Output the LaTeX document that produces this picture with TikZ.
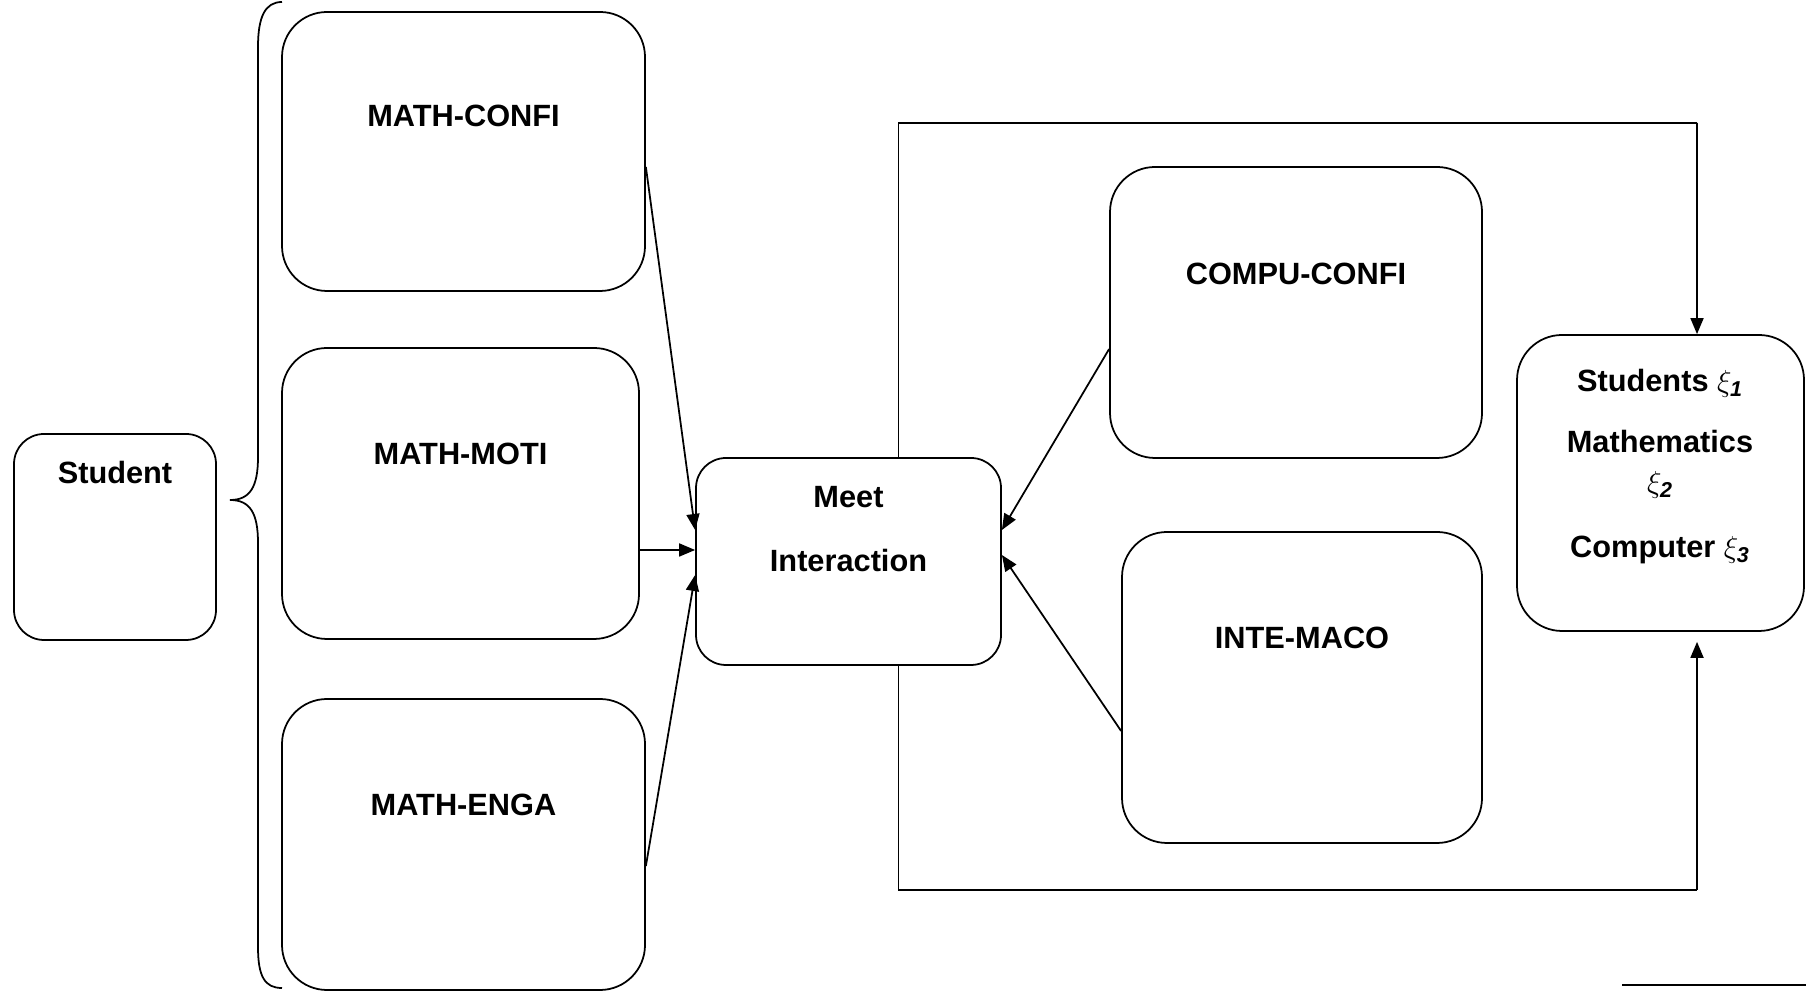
\documentclass[tikz,border=0pt]{standalone}
\usepackage{fontspec}
\setmainfont{Liberation Sans}
\usepackage{amsmath}
\usetikzlibrary{arrows.meta}

\begin{document}
\begin{tikzpicture}[
  box/.style={draw, line width=1pt, rounded corners=0.9cm, inner sep=0pt},
  lbl/.style={font=\fontsize{17.5}{21}\selectfont\bfseries, inner sep=1pt},
  pfeil/.style={line width=1pt, -{Triangle[length=0.32cm,width=0.26cm]}}
]

\useasboundingbox (0,0) rectangle (36.12,19.84);

\node[box, rounded corners=0.6cm, minimum width=4.04cm, minimum height=4.12cm] (student) at (2.30,9.10) {};	% Student Kasten
\node[lbl] (studenttxt) at (2.30,10.39) {Student};

\draw[line width=1pt] (5.64,19.80) .. controls (5.30,19.80) and (5.16,19.50) .. (5.16,18.90)	% Klammer oben
  -- (5.16,10.70) .. controls (5.16,10.10) and (5.00,9.84) .. (4.60,9.84)						% Klammer Spitze
  .. controls (5.00,9.84) and (5.16,9.58) .. (5.16,8.98)
  -- (5.16,0.90) .. controls (5.16,0.30) and (5.30,0.08) .. (5.64,0.08);						% Klammer unten

\node[box, minimum width=7.26cm, minimum height=5.58cm] (confi) at (9.27,16.81) {};	% MATH-CONFI
\node[lbl] (confitxt) at (9.27,17.52) {MATH-CONFI};
\node[box, minimum width=7.14cm, minimum height=5.82cm] (moti) at (9.21,9.97) {};	% MATH-MOTI
\node[lbl] (motitxt) at (9.21,10.76) {MATH-MOTI};
\node[box, minimum width=7.26cm, minimum height=5.82cm] (enga) at (9.27,2.95) {};	% MATH-ENGA
\node[lbl] (engatxt) at (9.27,3.74) {MATH-ENGA};

\node[box, rounded corners=0.6cm, minimum width=6.10cm, minimum height=4.14cm] (meet) at (16.97,8.61) {};	% Meet Interaction
\node[lbl, align=center, anchor=north] (meettxt) at (16.97,10.15) {Meet\\[0.53cm]Interaction};

\node[box, minimum width=7.44cm, minimum height=5.82cm] (compu) at (25.92,13.59) {};	% COMPU-CONFI
\node[lbl] (computxt) at (25.92,14.36) {COMPU-CONFI};
\node[box, minimum width=7.20cm, minimum height=6.22cm] (inte) at (26.04,6.09) {};	% INTE-MACO
\node[lbl] (intetxt) at (26.04,7.08) {INTE-MACO};

\node[box, minimum width=5.74cm, minimum height=5.92cm] (result) at (33.21,10.18) {};	% Ergebnis
\node[lbl, align=center, anchor=north] (resulttxt) at (33.20,12.49)
  {Students $\xi_{\textbf{\textit{1}}}$\\[0.48cm]Mathematics\\[0.06cm]$\xi_{\textbf{\textit{2}}}$\\[0.56cm]Computer $\xi_{\textbf{\textit{3}}}$};

\draw[pfeil] ([yshift=-0.31cm]confi.east) -- ([yshift=0.63cm]meet.west);	% Pfeil CONFI
\draw[pfeil] ([yshift=-1.13cm]moti.east) -- ([yshift=0.23cm]meet.west);	% Pfeil MOTI
\draw[pfeil] ([yshift=-0.43cm]enga.east) -- ([yshift=-0.27cm]meet.west);	% Pfeil ENGA
\draw[pfeil] ([yshift=-0.73cm]compu.west) -- ([yshift=0.63cm]meet.east);	% Pfeil COMPU
\draw[pfeil] ([yshift=-0.87cm]inte.west) -- ([yshift=0.13cm]meet.east);	% Pfeil INTE

\coordinate (obenlinks) at (17.97,17.38);
\coordinate (obenrechts) at (33.94,17.38);
\coordinate (untenlinks) at (17.97,2.04);
\coordinate (untenrechts) at (33.94,2.04);
\draw[line width=1pt] ([xshift=1cm]meet.north) -- (obenlinks) -- (obenrechts);	% Rueckweg oben
\draw[pfeil] (obenrechts) -- ([xshift=0.73cm]result.north);
\draw[line width=1pt] ([xshift=1cm]meet.south) -- (untenlinks) -- (untenrechts);	% Rueckweg unten
\draw[pfeil] (untenrechts) -- ([xshift=0.73cm,yshift=-0.2cm]result.south);

\draw[line width=1.7pt] (32.44,0.14) -- (36.12,0.14);	% Strich unten rechts

\end{tikzpicture}
\end{document}
